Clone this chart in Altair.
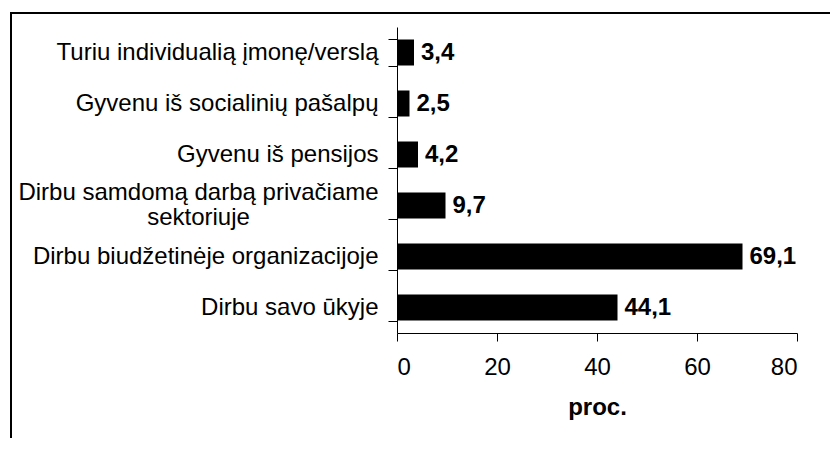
import altair as alt
import pandas as pd

categories = [
    "Turiu individualią įmonę/verslą",
    "Gyvenu iš socialinių pašalpų",
    "Gyvenu iš pensijos",
    "Dirbu samdomą darbą privačiame|sektoriuje",
    "Dirbu biudžetinėje organizacijoje",
    "Dirbu savo ūkyje",
]
values = [3.4, 2.5, 4.2, 9.7, 69.1, 44.1]
x_ticks = [0, 20, 40, 60, 80]

df = pd.DataFrame({"cat": categories, "v": values})
FONT = "Liberation Sans"
MULTI = "indexof(datum.label, '|') >= 0"

base = alt.Chart(df).encode(
    y=alt.Y("cat:N", sort=categories,
            scale=alt.Scale(paddingInner=0.49, paddingOuter=0.245, range=[19, 325]),
            axis=alt.Axis(title=None, labelExpr="split(datum.label, '|')",
                          labelFont=FONT, labelFontSize=24, labelColor="black",
                          labelLimit=500,
                          labelPadding={"condition": {"test": MULTI, "value": 190}, "value": 10},
                          labelAlign={"condition": {"test": MULTI, "value": "center"}, "value": "right"},
                          labelOffset={"condition": {"test": MULTI, "value": -13}, "value": 0},
                          labelLineHeight=25,
                          tickBand="extent", tickSize=9, tickColor="black",
                          domainColor="black", tickWidth=1, domainWidth=1)),
)

bars = base.mark_bar(color="black").encode(
    x=alt.X("v:Q", scale=alt.Scale(domain=[0, 80], nice=False),
            axis=alt.Axis(values=x_ticks, title="proc.", grid=False,
                          labelFont=FONT, labelFontSize=24, labelColor="black",
                          labelPadding=14, tickSize=8, tickColor="black",
                          domainColor="black", titleFont=FONT, titleFontSize=24,
                          titleFontWeight="bold", titleColor="black", titlePadding=16)),
)

labels = base.mark_text(align="left", baseline="middle", dx=7, font=FONT,
                        fontSize=24, fontWeight="bold", color="black").encode(
    x=alt.X("v:Q"),
    text=alt.Text("lbl:N"),
).transform_calculate(lbl="replace(format(datum.v, '.1f'), '.', ',')")

left_line = alt.Chart(alt.Data(values=[{"a": 1}])).mark_rect(color="black").encode(
    x=alt.value(-387), x2=alt.value(-385), y=alt.value(4), y2=alt.value(430))
top_line = alt.Chart(alt.Data(values=[{"b": 2}])).mark_rule(
    color="black", strokeWidth=2).encode(
    x=alt.value(-387), x2=alt.value(433), y=alt.value(5))

chart = alt.layer(top_line, left_line, bars, labels).properties(
    width=400, height=325,
    autosize=alt.AutoSizeParams(type="none"),
    padding={"left": 389, "top": 0, "right": 33, "bottom": 105},
).configure_view(stroke=None)

chart.save("out.html", embed_options={"renderer": "svg", "actions": False})
